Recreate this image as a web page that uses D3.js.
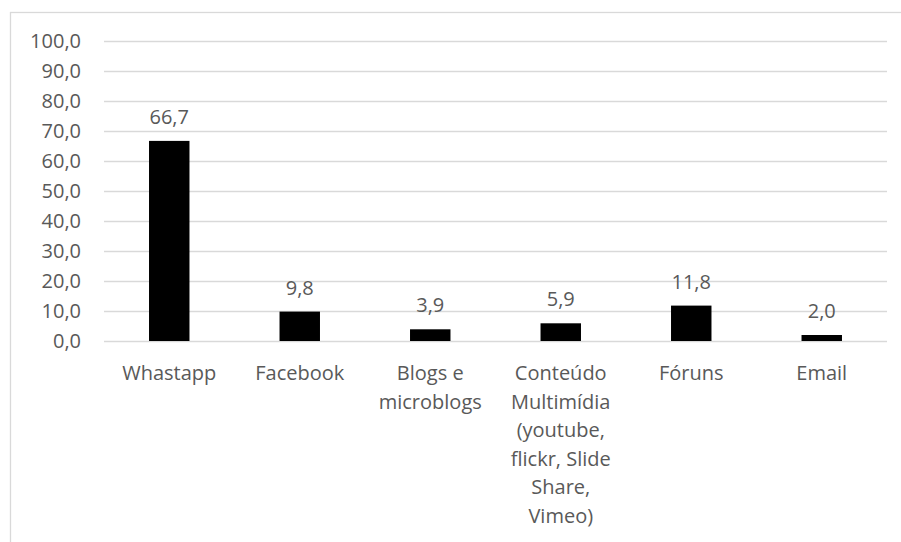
<!DOCTYPE html>
<html>
<head>
<meta charset="utf-8">
<script src="https://cdn.jsdelivr.net/npm/d3@7"></script>
<style>
  html, body { margin: 0; padding: 0; background: #fff; }
  svg { display: block; }
  text { font-family: "Open Sans", "Liberation Sans", sans-serif; fill: #595959; }
</style>
</head>
<body>
<svg id="chart" width="901" height="542"></svg>
<script>
const categories = ["Whastapp", "Facebook", "Blogs e microblogs", "Conteúdo Multimídia (youtube, flickr, Slide Share, Vimeo)", "Fóruns", "Email"];
const categoryLines = [["Whastapp"], ["Facebook"], ["Blogs e", "microblogs"], ["Conteúdo", "Multimídia", "(youtube,", "flickr, Slide", "Share,", "Vimeo)"], ["Fóruns"], ["Email"]];
const values = [66.7, 9.8, 3.9, 5.9, 11.8, 2.0];
const yTicks = [0, 10, 20, 30, 40, 50, 60, 70, 80, 90, 100];

const svg = d3.select("#chart");
const W = 901, H = 542;
const plot = { left: 104, right: 887, top: 41, bottom: 341 };
const fmt = v => d3.format(".1f")(v).replace(".", ",");

// outer chart border (extends beyond the frame)
svg.append("rect")
  .attr("x", 10.5).attr("y", 12.5)
  .attr("width", 1200).attr("height", 1200)
  .attr("fill", "none").attr("stroke", "#d9d9d9").attr("stroke-width", 1.3);

const x = d3.scaleBand().domain(categories).range([plot.left, plot.right]).paddingInner(0.69).paddingOuter(0.345);
const y = d3.scaleLinear().domain([0, 100]).range([plot.bottom, plot.top]);

// gridlines
svg.append("g").selectAll("line").data(yTicks).join("line")
  .attr("x1", plot.left).attr("x2", plot.right)
  .attr("y1", d => Math.round(y(d)) + 0.5).attr("y2", d => Math.round(y(d)) + 0.5)
  .attr("stroke", "#d9d9d9").attr("stroke-width", 1.3);

// y axis labels
const yAxis = d3.axisLeft(y).tickValues(yTicks).tickFormat(fmt).tickSize(0).tickPadding(0);
const gy = svg.append("g").attr("transform", `translate(${81},0)`).call(yAxis);
gy.select(".domain").remove();
gy.selectAll("text").attr("font-size", 20).attr("fill", "#595959")
  .style("font-family", '"Open Sans", "Liberation Sans", sans-serif').attr("dy", "0.34em");

// bars
svg.append("g").selectAll("rect").data(values).join("rect")
  .attr("x", (d, i) => x(categories[i]))
  .attr("width", x.bandwidth())
  .attr("y", d => y(d))
  .attr("height", d => y(0) - y(d))
  .attr("fill", "#000");

// value labels
svg.append("g").selectAll("text").data(values).join("text")
  .attr("x", (d, i) => x(categories[i]) + x.bandwidth() / 2)
  .attr("y", d => y(d) - 17)
  .attr("text-anchor", "middle")
  .attr("font-size", 20)
  .text(d => fmt(d));

// x axis labels
const xAxis = d3.axisBottom(x).tickSize(0).tickFormat("");
const gx = svg.append("g").attr("transform", `translate(0,${plot.bottom})`).call(xAxis);
gx.select(".domain").remove();
gx.selectAll(".tick").each(function(d, i) {
  const t = d3.select(this).append("text")
    .attr("text-anchor", "middle")
    .attr("font-size", 20)
    .attr("fill", "#595959");
  categoryLines[i].forEach((line, j) => {
    t.append("tspan").attr("x", 0).attr("y", 39 + j * 28.5).text(line);
  });
});
</script>
</body>
</html>
